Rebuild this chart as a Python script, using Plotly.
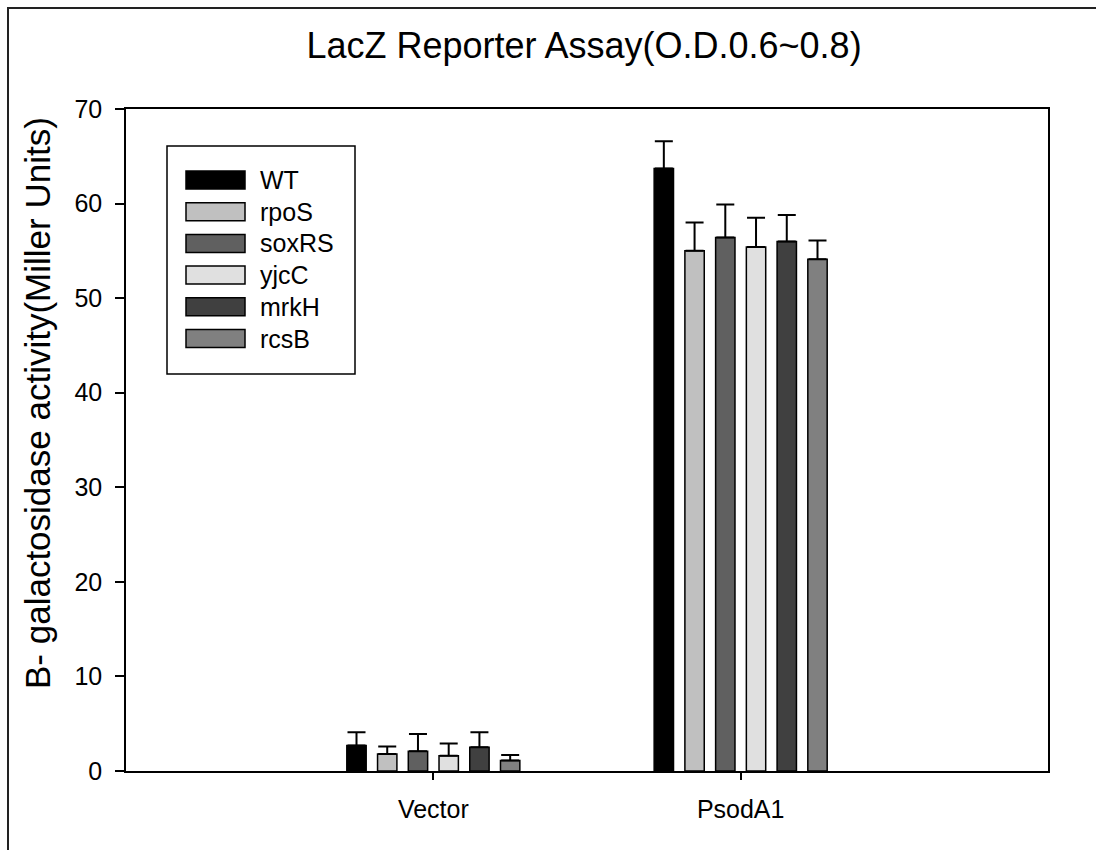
import plotly.graph_objects as go

# ---- data ----
categories = ["Vector", "PsodA1"]
strains = ["WT", "rpoS", "soxRS", "yjcC", "mrkH", "rcsB"]
values = {
    "WT":    [2.7, 63.7],
    "rpoS":  [1.8, 55.0],
    "soxRS": [2.1, 56.4],
    "yjcC":  [1.6, 55.4],
    "mrkH":  [2.5, 56.0],
    "rcsB":  [1.1, 54.1],
}
errors = {
    "WT":    [1.4, 2.9],
    "rpoS":  [0.8, 3.0],
    "soxRS": [1.8, 3.5],
    "yjcC":  [1.3, 3.1],
    "mrkH":  [1.6, 2.8],
    "rcsB":  [0.6, 2.0],
}
y_ticks = [0, 10, 20, 30, 40, 50, 60, 70]

# ---- styles ----
colors = {"WT": "#000000", "rpoS": "#c0c0c0", "soxRS": "#606060",
          "yjcC": "#e0e0e0", "mrkH": "#404040", "rcsB": "#808080"}
FONT = "Liberation Sans, Arial, sans-serif"
W, H = 1096, 850
L, R, T, B = 126, 48, 109, 79
PW, PH = W - L - R, H - T - B


def px_x(p):
    return (p - L) / PW


def px_y(p):
    return (H - B - p) / PH


fig = go.Figure()
for s in strains:
    fig.add_trace(go.Bar(
        name=s, x=[0, 1], y=values[s],
        marker=dict(color=colors[s], line=dict(color="#000000", width=1.5)),
        error_y=dict(type="data", symmetric=False, array=errors[s],
                     arrayminus=[0] * len(errors[s]),
                     color="#000000", thickness=2, width=9),
        showlegend=False,
    ))

shapes = []
annotations = []
# outer frame
shapes.append(dict(type="rect", xref="paper", yref="paper",
                   x0=px_x(8), y0=px_y(900), x1=px_x(1150), y1=px_y(8),
                   line=dict(color="#222222", width=2), layer="below"))
# legend box
shapes.append(dict(type="rect", xref="paper", yref="paper",
                   x0=px_x(167), y0=px_y(374), x1=px_x(355), y1=px_y(146),
                   line=dict(color="#000000", width=1.5), fillcolor="white"))
for i, s in enumerate(strains):
    top = 171 + i * 31.7
    shapes.append(dict(type="rect", xref="paper", yref="paper",
                       x0=px_x(186), y0=px_y(top + 18), x1=px_x(245), y1=px_y(top),
                       line=dict(color="#000000", width=1.5), fillcolor=colors[s]))
    annotations.append(dict(xref="paper", yref="paper", x=px_x(258), y=px_y(top + 9),
                            text=s, showarrow=False, xanchor="left", yanchor="middle",
                            font=dict(family=FONT, size=25, color="#000000")))

# y-axis title
annotations.append(dict(xref="paper", yref="paper", x=px_x(37), y=px_y(403),
                        text="B- galactosidase activity(Miller Units)", textangle=-90,
                        showarrow=False, xanchor="center", yanchor="middle",
                        font=dict(family=FONT, size=35, color="#000000")))

fig.update_layout(
    width=W, height=H,
    margin=dict(l=L, r=R, t=T, b=B),
    paper_bgcolor="white", plot_bgcolor="white",
    barmode="group", bargap=0.4, bargroupgap=0.37,
    title=dict(text="LacZ Reporter Assay(O.D.0.6~0.8)", xref="container",
               x=584 / W, xanchor="center",
               y=1 - 45 / H, yanchor="middle",
               font=dict(family=FONT, size=36, color="#000000")),
    font=dict(family=FONT, color="#000000"),
    shapes=shapes, annotations=annotations,
    xaxis=dict(range=[-1, 2], tickmode="array", tickvals=[0, 1], ticktext=categories,
               ticks="outside", ticklen=7, tickwidth=1.5, tickcolor="#000000",
               showline=True, linecolor="#000000", linewidth=1.5, mirror=True,
               showgrid=False, zeroline=False,
               tickfont=dict(family=FONT, size=25, color="#000000"),
               ticklabelstandoff=8),
    yaxis=dict(range=[0, 70], tickmode="array", tickvals=y_ticks,
               ticks="outside", ticklen=9, tickwidth=1.5, tickcolor="#000000",
               showline=True, linecolor="#000000", linewidth=1.5, mirror=True,
               showgrid=False, zeroline=False,
               tickfont=dict(family=FONT, size=25, color="#000000"),
               ticklabelstandoff=8),
)

fig.write_html("out.html")
